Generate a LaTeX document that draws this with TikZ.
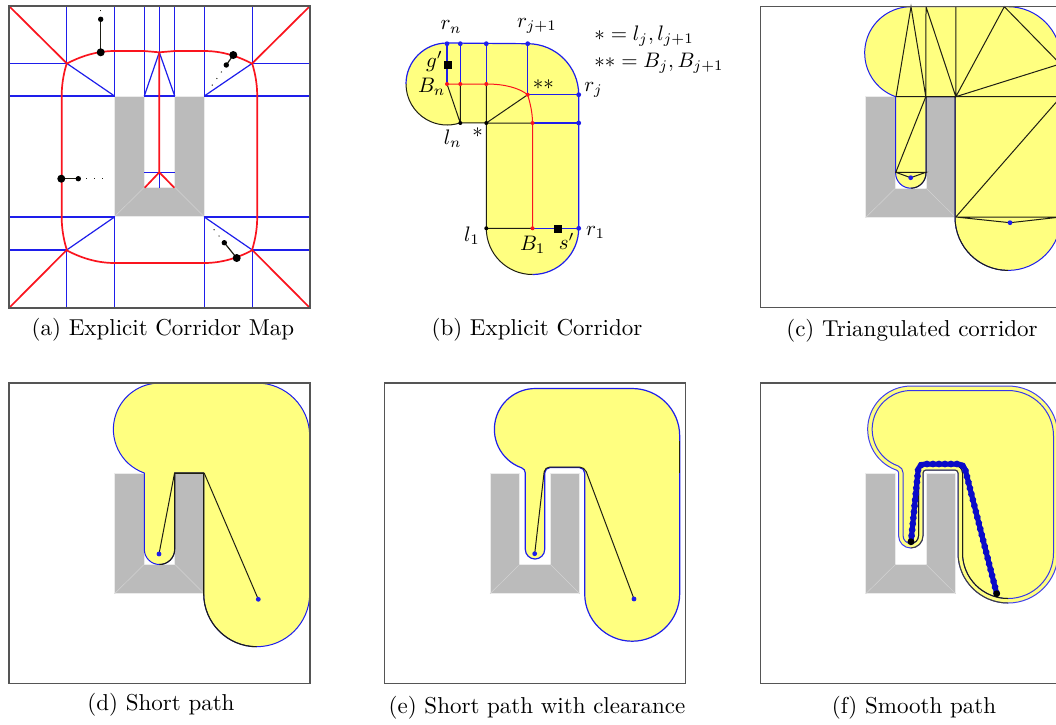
\documentclass[tikz,border=0pt]{standalone}
\usetikzlibrary{decorations.markings}
\definecolor{corr}{RGB}{255,255,128}
\definecolor{obst}{RGB}{187,187,187}
\definecolor{frm}{RGB}{85,85,85}
\definecolor{bl}{RGB}{30,30,235}
\definecolor{rd}{RGB}{250,20,30}
\definecolor{dk}{RGB}{30,30,20}
\definecolor{sblue}{RGB}{10,10,200}
\tikzset{
  frameline/.style={draw=frm,line width=1.2pt},
  bline/.style={draw=bl,line width=1.2pt},
  rline/.style={draw=rd,line width=1.7pt},
  kline/.style={draw=dk,line width=1pt},
  dotline/.style={draw=dk,line width=1pt,dash pattern=on 1pt off 7pt},
  caption/.style={scale=2.3,anchor=center,inner sep=0pt},
  mlabel/.style={scale=2.1,anchor=center,inner sep=0pt},
}
% d: offset, cya: centre y of lower large circle, cyb: centre y of small circle
\newcommand\setcorr[3]{%
  \pgfmathsetmacro\cd{#1}%
  \pgfmathsetmacro\cya{#2}%
  \pgfmathsetmacro\cyb{#3}%
  \pgfmathsetmacro\rbig{53-\cd}%
  \pgfmathsetmacro\rcirc{46.3-\cd}%
  \pgfmathsetmacro\rsm{15.2-\cd}%
  \pgfmathsetmacro\xr{247.7+\rbig}%
  \pgfmathsetmacro\xl{247.7-\rbig}%
  \pgfmathsetmacro\ytop{\cd}%
  \pgfmathsetmacro\yneck{90-\cd}%
  \pgfmathsetmacro\xsr{150.5+\rsm}%
  \pgfmathsetmacro\xsl{150.5-\rsm}%
  \pgfmathsetmacro\ysb{\cyb+\rsm}%
  \pgfmathsetmacro\ybb{\cya+\rbig}%
}
\newcommand\corrfull[1]{%
  \path[#1] (150.7,\ytop) -- (247.7,\ytop) arc[start angle=270,end angle=360,radius=\rbig pt]
    -- (\xr,\cya) arc[start angle=0,end angle=180,radius=\rbig pt]
    -- (\xl,90) arc[start angle=360,end angle=270,radius=\cd pt]
    -- (165.7,\yneck) arc[start angle=270,end angle=180,radius=\cd pt]
    -- (\xsr,\cyb) arc[start angle=0,end angle=180,radius=\rsm pt]
    -- (\xsl,90) arc[start angle=0,end angle=-70.6,radius=\cd pt]
    arc[start angle=109.4,end angle=270,radius=\rcirc pt] -- cycle;}
\newcommand\corrblack[1]{%
  \path[#1] (247.7,\ybb) arc[start angle=90,end angle=180,radius=\rbig pt]
    -- (\xl,90) arc[start angle=360,end angle=270,radius=\cd pt]
    -- (165.7,\yneck) arc[start angle=270,end angle=180,radius=\cd pt]
    -- (\xsr,\cyb) arc[start angle=0,end angle=90,radius=\rsm pt];}
\newcommand\obstacle{%
  \fill[obst,draw=white!70!obst,line width=0.7pt] (105.5,90) -- (135.3,90) -- (135.3,181.3) -- (165.7,181.3) -- (165.7,90) -- (195.3,90) -- (195.3,210.7) -- (105.5,210.7) -- cycle;
  \draw[white!35!obst,line width=0.5pt] (105.5,210.7) -- (135.3,181.3) (195.3,210.7) -- (165.7,181.3);}
\newcommand\panelframe{\draw[frameline] (0,0) rectangle (301,300.5);}
\newcommand\bdot[1]{\fill[bl] (#1) circle[radius=2.4pt];}
\newcommand\rdot[1]{\fill[rd] (#1) circle[radius=2pt];}
\newcommand\sdot[1]{\fill[black] (#1) circle[radius=2pt];}
\begin{document}
\begin{tikzpicture}[x=1pt,y=1pt,yscale=-1]
\path[use as bounding box] (0,0) rectangle (1056,724);
\fill[white] (0,0) rectangle (1056,724);
\clip (0,0) rectangle (1056,724);

% ---------- (a)
\begin{scope}[shift={(9,6)}]
\obstacle
\foreach \x/\a/\b in {57.7/0/57.3,105.5/0/90,135.3/0/90,150.3/0/46.3,165.7/0/90,195.3/0/90,243.3/0/57.3,
  57.7/244/302,105.5/211/302,195.3/211/302,243.3/244/302,150.3/166.3/181.7}
  \draw[bline] (\x,\a) -- (\x,\b);
\foreach \y/\a/\b in {57.3/0/57.7,57.3/243.3/301,90/0/105.5,90/195.3/301,90/135.3/165.7,
  211/0/105.5,211/195.3/301,244/0/57.7,244/243.3/301,166.3/135.3/165.7}
  \draw[bline] (\a,\y) -- (\b,\y);
\draw[bline] (57.7,57.3) -- (105.5,90) (243.3,57.3) -- (195.3,90) (57.7,244) -- (105.5,211) (243.3,244) -- (195.3,211)
  (150.3,46.3) -- (135.3,90) (150.3,46.3) -- (165.7,90);
\draw[rline] (0,0) -- (57.7,57.3) (301,0) -- (243.3,57.3) (0,302) -- (57.7,244) (301,302) -- (243.3,244)
  (150.3,46.3) -- (150.3,166.3) -- (135.7,181.7) (150.3,166.3) -- (165.3,181.7);
% retraction
\draw[rline,line join=round] plot[domain=57.7:105.5,samples=16] (\x,{45+(\x-105.5)*(\x-105.5)/180})
  -- (135,45) -- (150.3,46.3) -- (165.7,45) -- (195.3,45)
  -- plot[domain=195.3:243.3,samples=16] (\x,{45+(\x-195.3)*(\x-195.3)/180});
\draw[rline,line join=round] plot[domain=57.7:105.5,samples=16] (\x,{257-(\x-105.5)*(\x-105.5)/180})
  -- plot[domain=195.3:243.3,samples=16] (\x,{257-(\x-195.3)*(\x-195.3)/180});
\draw[rline,line join=round] plot[domain=57.3:90,samples=12] ({52.7+(\x-90)*(\x-90)/211},\x)
  -- plot[domain=211:244,samples=12] ({52.7+(\x-211)*(\x-211)/211},\x);
\draw[rline,line join=round] plot[domain=57.3:90,samples=12] ({248.2-(\x-90)*(\x-90)/211},\x)
  -- plot[domain=211:244,samples=12] ({248.2-(\x-211)*(\x-211)/211},\x);
\draw[frm,line width=1.3pt] (0,0) rectangle (301,302);
% retraction samples
\foreach \bx/\by/\sx/\sy/\ex/\ey in {
  91.7/46.3/91.7/13.3/91.7/2.3,
  224.3/49/217.3/59/200.3/83.3,
  52.3/172.7/69.3/172.7/99.3/172.7,
  227.7/252/215.3/236.7/202.7/220.7}{
  \draw[kline,line width=1.2pt] (\bx,\by) -- (\sx,\sy);
  \draw[dotline] (\sx,\sy) -- (\ex,\ey);
  \fill[black] (\bx,\by) circle[radius=4pt];
  \fill[black] (\sx,\sy) circle[radius=2.7pt];
}
\end{scope}
\node[caption] (capa) at (163,330) {(a) Explicit Corridor Map};

% ---------- (b)
\coordinate (rn) at (447,43.7);
\coordinate (Bn) at (447,84);
\coordinate (t2) at (460.3,43.7);
\coordinate (m2) at (460.3,84);
\coordinate (ln) at (460.3,123);
\coordinate (t3) at (486.3,43.7);
\coordinate (m3) at (486.3,84);
\coordinate (lj) at (486.3,123);
\coordinate (rj1) at (527.7,43.7);
\coordinate (Bj) at (527.7,94.7);
\coordinate (rj) at (578.7,94.7);
\coordinate (Bk) at (532.5,123);
\coordinate (rk) at (578.7,123);
\coordinate (l1) at (486.3,228.3);
\coordinate (B1) at (532.5,228.3);
\coordinate (r1) at (578.7,228.3);
\fill[corr] (rn) -- (rj1) arc[start angle=270,end angle=360,radius=51pt] -- (r1)
  arc[start angle=0,end angle=180,radius=46.2pt] -- (lj) -- (ln)
  arc[start angle=71.2,end angle=270,radius=41pt] -- cycle;
\draw[bline] (406,84) arc[start angle=180,end angle=270,radius=41pt] -- (rj1) arc[start angle=270,end angle=360,radius=51pt] -- (r1)
  arc[start angle=0,end angle=90,radius=46.2pt];
\draw[kline] (406,84) arc[start angle=180,end angle=71.2,radius=41pt] -- (lj) -- (l1) arc[start angle=180,end angle=90,radius=46.2pt];
\draw[bline] (rn) -- (Bn) (t2) -- (m2) (t3) -- (m3) (rj1) -- (Bj) -- (rj) (Bk) -- (rk) (B1) -- (r1);
\draw[kline] (Bn) -- (ln) (m2) -- (ln) (m3) -- (lj) (lj) -- (Bj) (lj) -- (Bk) (l1) -- (B1);
\draw[draw=rd,line width=1pt] (Bn) -- (m3) .. controls (505,84) and (519,88) .. (Bj) .. controls (530,103) and (532.5,112) .. (Bk) -- (B1);
\foreach \p in {rn,t2,t3,rj1,rj,rk,r1} {\bdot{\p}}
\foreach \p in {Bn,m2,m3,Bj,Bk,B1} {\rdot{\p}}
\foreach \p in {ln,lj,l1} {\sdot{\p}}
\fill[black] (443.7,60.7) rectangle (451.7,68.7);
\fill[black] (553.7,224.7) rectangle (561.7,232.7);
\node[mlabel] (lrn) at (451,27) {$r_n$};
\node[mlabel] (lrj1) at (537,26) {$r_{j+1}$};
\node[mlabel] (lg) at (434.5,61.5) {$g'$};
\node[mlabel] (lBn) at (431.7,87) {$B_n$};
\node[mlabel] (lss) at (543.3,85) {$**$};
\node[mlabel] (lrj) at (593.5,90) {$r_j$};
\node[mlabel] (lln) at (452.7,139) {$l_n$};
\node[mlabel] (ls) at (477.7,133) {$*$};
\node[mlabel] (ll1) at (472,236) {$l_1$};
\node[mlabel] (lB1) at (532.7,244.5) {$B_1$};
\node[mlabel] (lsp) at (566.7,241.5) {$s'$};
\node[mlabel] (lr1) at (595.5,232.5) {$r_1$};
\node[mlabel,anchor=west] (eq1) at (594,36) {$*=l_j,l_{j+1}$};
\node[mlabel,anchor=west] (eq2) at (594,63) {$**=B_j,B_{j+1}$};
\node[caption] (capb) at (537,330) {(b) Explicit Corridor};

% ---------- (c)
\begin{scope}[shift={(760.3,6.7)}]
\obstacle
\setcorr{0.001}{210.7}{166.3}
\corrfull{fill=corr}
\corrfull{draw=bl,line width=1pt}
\corrblack{draw=dk,line width=1pt}
\draw[kline] (135.7,90) -- (150.7,0) -- (165.5,90) (165.7,0) -- (165.5,90) (165.7,0) -- (195.5,90)
  (195.5,0) -- (195.5,90) -- (244,0) -- (300.7,58) (195.5,90) -- (300.7,57)
  (135.5,90) -- (300.7,90) (165.5,90) -- (135.5,165.6) -- (165.5,165.6) -- (150.4,171) -- (135.5,165.6)
  (195.5,210.3) -- (300.7,90) (195.5,210.3) -- (300.7,210.3) (195.5,210.3) -- (249.7,216) -- (300.7,210.3);
\bdot{150.4,171}
\bdot{249.7,216}
\panelframe
\end{scope}
\node[caption] (capc) at (912,331) {(c) Triangulated corridor};

% ---------- (d)
\begin{scope}[shift={(9,383)}]
\obstacle
\setcorr{0.001}{210.7}{166.3}
\corrfull{fill=corr}
\corrfull{draw=bl,line width=1pt}
\corrblack{draw=dk,line width=1.1pt}
\draw[kline] (150,171) -- (165.5,90.3) -- (195.3,90.3) -- (249.3,216.3);
\bdot{150,171}
\bdot{249.3,216.3}
\panelframe
\end{scope}
\node[caption] (capd) at (161,705) {(d) Short path};

% ---------- (e)
\begin{scope}[shift={(384.5,383)}]
\obstacle
\setcorr{5.5}{210.7}{166.3}
\corrfull{fill=corr}
\corrfull{draw=bl,line width=1.2pt}
\draw[kline] (295.2,58) -- (295.2,90);
\draw[kline,rounded corners=5pt] (150.2,170.7) -- (160.2,84) -- (200,84) -- (249.5,216);
\bdot{150.2,170.7}
\bdot{249.5,216}
\panelframe
\end{scope}
\node[caption] (cape) at (537,708) {(e) Short path with clearance};

% ---------- (f)
\begin{scope}[shift={(760.3,383)}]
\obstacle
\setcorr{3}{170}{152.8}
\corrfull{fill=corr}
\corrfull{draw=bl!85!white,line width=1pt}
\corrblack{draw=dk!85!white,line width=1pt}
\setcorr{7.5}{170}{152.8}
\corrfull{draw=bl!90!white,line width=1pt}
\corrblack{draw=dk,line width=1pt}
\draw[sblue,line width=5pt,rounded corners=6pt] (150.7,158.7) -- (158.4,81) -- (203.5,81) -- (236.4,210.7);
\draw[rounded corners=6pt,postaction={decorate},decoration={markings,mark=between positions 0 and 1 step 6pt with {\fill[sblue] (0,0) circle[radius=3.4pt];}}] (150.7,158.7) -- (158.4,81) -- (203.5,81) -- (236.4,210.7);
\fill[black] (150.7,158.7) circle[radius=3.4pt];
\fill[black] (236.4,210.7) circle[radius=3.4pt];
\panelframe
\end{scope}
\node[caption] (capf) at (914,708) {(f) Smooth path};
\end{tikzpicture}
\end{document}
